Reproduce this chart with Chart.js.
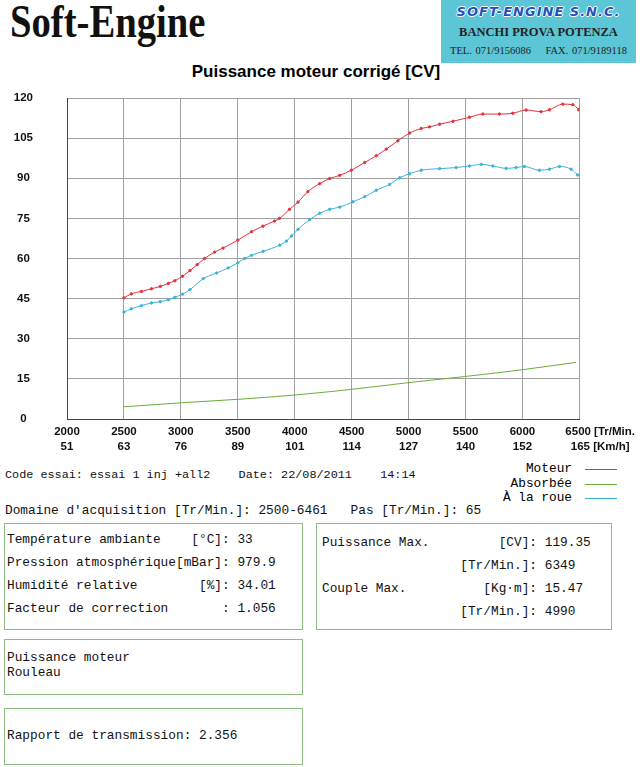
<!DOCTYPE html>
<html>
<head>
<meta charset="utf-8">
<script src="https://cdn.jsdelivr.net/npm/chart.js@4"></script>
<style>
  body { margin: 0; background: #fff; width: 640px; height: 767px; position: relative; overflow: hidden; }
  .abs { position: absolute; }
  #brand { left: 10px; top: -5px; font: bold 46px "Liberation Serif", serif; transform: scaleX(0.84); transform-origin: left top; color: #111; }
  #logo { left: 441px; top: 0; width: 195px; height: 63px; background: #5cc6d6; font-family: "Liberation Serif", serif; color: #222; text-align: center; }
  #logo .l1 { position: absolute; left: 0; width: 195px; top: 4px; font: italic bold 13px "DejaVu Sans", sans-serif; letter-spacing: 1px; color: #2450b8; text-shadow: 1px 0 #fff, -1px 0 #fff, 0 1px #fff, 0 -1px #fff; }
  #logo .l2 { position: absolute; left: 0; width: 195px; top: 25px; font-size: 12.5px; font-weight: bold; }
  #logo .l3 { position: absolute; left: 0; width: 195px; top: 45px; font-size: 10.5px; word-spacing: 1px; }
  #title { left: 0; width: 632px; top: 62px; text-align: center; font: bold 17px "Liberation Sans", Arial, sans-serif; }
  #myChart { position: absolute; left: 0; top: 55px; }
  pre { margin: 0; font: 12.8px "Liberation Mono", monospace; color: #111; position: absolute; }
  .box { position: absolute; border: 1px solid #8cbc80; }
  #legend { left: 440px; top: 461px; width: 190px; }
  #legend .row { position: relative; height: 14.5px; font: 12.8px "Liberation Mono", monospace; }
  #legend .lab { position: absolute; right: 58px; top: 0; }
  #legend .sw { position: absolute; left: 145px; width: 32px; top: 8px; height: 1px; }
</style>
</head>
<body>
<div id="brand" class="abs">Soft-Engine</div>
<div id="logo" class="abs">
  <div class="l1">SOFT-ENGINE S.N.C.</div>
  <div class="l2">BANCHI PROVA POTENZA</div>
  <div class="l3">TEL. 071/9156086&nbsp;&nbsp;&nbsp;&nbsp;FAX. 071/9189118</div>
</div>
<div id="title" class="abs">Puissance moteur corrigé [CV]</div>
<canvas id="myChart" width="640" height="405"></canvas>

<pre style="left:5px;top:468px;font-size:11.8px">Code essai: essai 1 inj +all2    Date: 22/08/2011    14:14</pre>
<div id="legend" class="abs"></div>
<pre style="left:5px;top:503px">Domaine d'acquisition [Tr/Min.]: 2500-6461   Pas [Tr/Min.]: 65</pre>

<div class="box" style="left:4px;top:523px;width:297px;height:105px"></div>
<pre style="left:7px;top:528px;line-height:23px">Température ambiante    [°C]: 33
Pression atmosphérique[mBar]: 979.9
Humidité relative        [%]: 34.01
Facteur de correction       : 1.056</pre>

<div class="box" style="left:316px;top:523px;width:294px;height:105px"></div>
<pre style="left:322px;top:531px;line-height:23px">Puissance Max.         [CV]: 119.35
                  [Tr/Min.]: 6349
Couple Max.          [Kg·m]: 15.47
                  [Tr/Min.]: 4990</pre>

<div class="box" style="left:4px;top:639px;width:297px;height:54px"></div>
<pre style="left:7px;top:650px;line-height:15px">Puissance moteur
Rouleau</pre>

<div class="box" style="left:4px;top:708px;width:297px;height:55px"></div>
<pre style="left:7px;top:728px">Rapport de transmission: 2.356</pre>

<script>
// tick labels
const rpmTicks = ['2000', '2500', '3000', '3500', '4000', '4500', '5000', '5500', '6000', '6500'];
const kmhTicks = ['51', '63', '76', '89', '101', '114', '127', '140', '152', '165'];

// Moteur (red)
const moteurRpm = [2500, 2565, 2654, 2742, 2820, 2890, 2947, 3015, 3080, 3143, 3208, 3296, 3370, 3500, 3620, 3720, 3822, 3866, 3954, 4029, 4115, 4219, 4307, 4395, 4497, 4614, 4716, 4804, 4906, 5009, 5111, 5184, 5272, 5389, 5535, 5652, 5798, 5915, 6032, 6164, 6237, 6354, 6442, 6494];
const moteurCv = [45.3, 46.8, 47.7, 48.7, 49.6, 50.7, 51.7, 53.4, 55.5, 57.7, 60.0, 62.4, 63.9, 66.9, 70.0, 72.1, 74.0, 75.0, 78.4, 81.1, 85.0, 88.0, 89.9, 91.1, 93.0, 95.9, 98.4, 100.9, 104.0, 106.9, 108.6, 109.2, 110.2, 111.3, 112.8, 114.0, 114.0, 114.3, 115.5, 114.9, 115.6, 117.7, 117.5, 115.6];

// A la roue (blue)
const roueRpm = [2500, 2565, 2654, 2742, 2820, 2890, 2947, 3015, 3080, 3197, 3314, 3416, 3500, 3560, 3620, 3722, 3868, 3927, 3971, 4029, 4132, 4219, 4307, 4395, 4511, 4614, 4716, 4833, 4921, 5009, 5111, 5272, 5418, 5535, 5638, 5740, 5857, 5944, 6017, 6149, 6237, 6325, 6427, 6485];
const roueCv = [40.0, 41.2, 42.4, 43.4, 43.9, 44.6, 45.5, 46.7, 48.4, 52.5, 54.6, 56.5, 58.4, 60.0, 61.2, 62.7, 65.0, 66.5, 68.4, 70.9, 74.6, 76.9, 78.4, 79.2, 81.2, 83.1, 85.5, 87.7, 90.2, 91.7, 93.0, 93.6, 94.0, 94.6, 95.2, 94.6, 93.7, 94.0, 94.4, 93.0, 93.4, 94.4, 93.4, 91.2];

// Absorbee (green)
const absRpm = [2500, 3006, 3503, 4000, 4497, 4994, 5491, 5988, 6471];
const absCv = [4.6, 6.1, 7.4, 9.0, 11.1, 13.6, 15.9, 18.4, 21.2];

const pts = (xs, ys) => xs.map((x, i) => ({x: x, y: ys[i]}));

window.onload = () => {
    const ctx = document.getElementById('myChart');
    const red = '#e2323c', green = '#6aac3c', blue = '#3cb2da';
    window.chart = new Chart(ctx, {
        type: 'line',
        data: {
            datasets: [
                {
                    label: 'Moteur',
                    data: pts(moteurRpm, moteurCv),
                    borderColor: red,
                    backgroundColor: red,
                    borderWidth: 1,
                    pointRadius: 1.2,
                    cubicInterpolationMode: 'monotone'
                },
                {
                    label: 'Absorbée',
                    data: pts(absRpm, absCv),
                    borderColor: green,
                    backgroundColor: green,
                    borderWidth: 1,
                    pointRadius: 0,
                    cubicInterpolationMode: 'monotone'
                },
                {
                    label: 'À la roue',
                    data: pts(roueRpm, roueCv),
                    borderColor: blue,
                    backgroundColor: blue,
                    borderWidth: 1,
                    pointRadius: 1.2,
                    cubicInterpolationMode: 'monotone'
                }
            ]
        },
        options: {
            responsive: false,
            animation: false,
            // y tick padding (34) also pads the bottom, so chart area ends ~41px above canvas bottom
            layout: { padding: { top: 43, right: 60, left: 0, bottom: 0 } },
            plugins: { legend: { display: false }, tooltip: { enabled: false } },
            scales: {
                x: {
                    type: 'linear',
                    min: 2000,
                    max: 6500,
                    afterFit: (s) => { s.height = 36; },
                    grid: { color: '#a0a0a0', drawTicks: false },
                    border: { color: '#444' },
                    ticks: {
                        stepSize: 500,
                        autoSkip: false,
                        padding: 5,
                        color: '#111',
                        maxRotation: 0,
                        font: { family: 'Liberation Sans', size: 11.5, weight: 'bold', lineHeight: 1.3 },
                        callback: (v) => {
                            const i = Math.round((v - 2000) / 500);
                            if (i === rpmTicks.length - 1) {
                                return ['             ' + rpmTicks[i] + ' [Tr/Min.', '             ' + kmhTicks[i] + ' [Km/h]'];
                            }
                            return [rpmTicks[i], kmhTicks[i]];
                        }
                    }
                },
                y: {
                    min: 0,
                    max: 120,
                    afterFit: (s) => { s.width = 67; },
                    grid: { color: '#a0a0a0', drawTicks: false },
                    border: { color: '#444' },
                    ticks: {
                        stepSize: 15,
                        padding: 34,
                        crossAlign: 'center',
                        color: '#111',
                        font: { family: 'Liberation Sans', size: 11.5, weight: 'bold' }
                    }
                }
            }
        }
    });

    // legend below the chart, built from the datasets
    const leg = document.getElementById('legend');
    for (const ds of window.chart.data.datasets) {
        const row = document.createElement('div');
        row.className = 'row';
        row.innerHTML = '<span class="lab">' + ds.label + '</span><span class="sw" style="background:' + ds.borderColor + '"></span>';
        leg.appendChild(row);
    }
};
</script>
</body>
</html>
